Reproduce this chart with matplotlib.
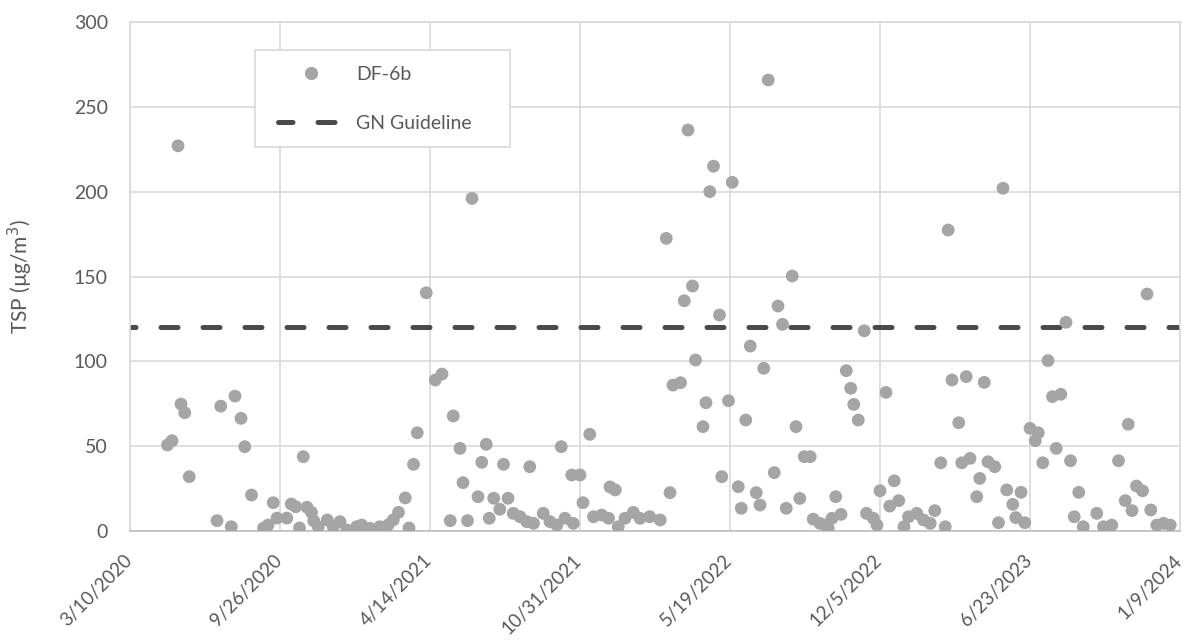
import matplotlib
matplotlib.use("Agg")
import matplotlib.pyplot as plt
from matplotlib.lines import Line2D
from matplotlib.patches import Rectangle
import matplotlib.transforms as mtransforms
import pandas as pd

# sampling days counted from the first axis date (3/10/2020)
start_date = "2020-03-10"
sample_day = [
    50, 56, 64, 68, 73, 79, 116, 121, 135, 140, 148, 153, 162, 178, 184, 191,
    196, 209, 215, 221, 226, 231, 236, 242, 245, 251, 263, 271, 280, 289, 302,
    309, 320, 333, 344, 351, 358, 367, 372, 378, 383, 395, 407, 416, 427, 431,
    440, 444, 450, 456, 464, 469, 475, 479, 485, 493, 498, 504, 511, 520, 529,
    533, 538, 551, 560, 569, 575, 580, 589, 591, 600, 604, 613, 618, 629, 638,
    640, 647, 651, 660, 671, 680, 693, 707, 715, 720, 724, 734, 739, 744, 750,
    754, 764, 768, 773, 778, 786, 789, 798, 803, 811, 815, 821, 827, 835, 840,
    845, 851, 859, 864, 870, 875, 883, 888, 893, 899, 907, 911, 920, 927, 931,
    936, 941, 948, 955, 961, 965, 971, 979, 982, 991, 996, 1000, 1008, 1013,
    1019, 1025, 1032, 1038, 1049, 1058, 1067, 1073, 1081, 1087, 1091, 1096,
    1105, 1109, 1115, 1120, 1129, 1133, 1139, 1144, 1153, 1158, 1164, 1169,
    1177, 1181, 1188, 1193, 1200, 1207, 1211, 1217, 1224, 1230, 1235, 1241,
    1248, 1254, 1259, 1265, 1271, 1289, 1298, 1309, 1318, 1327, 1331, 1336,
    1342, 1350, 1356, 1361, 1369, 1378, 1387,
]
tsp_df6b = [
    50.7, 53.2, 227, 74.8, 69.7, 32, 6.1, 73.6, 2.5, 79.5, 66.4, 49.7, 21.2,
    1.7, 3.5, 16.7, 7.6, 7.6, 15.9, 14.3, 1.8, 43.8, 14, 11, 6, 2.5, 6.5, 2.5,
    5.5, 0.6, 2.5, 3.5, 1.6, 2.5, 3.5, 6.5, 11, 19.5, 1.8, 39.3, 57.9, 140.4,
    89, 92.5, 6.1, 67.8, 48.7, 28.5, 6.1, 196, 20.2, 40.5, 51.1, 7.5, 19.3,
    12.8, 39.3, 19.3, 10.4, 8.4, 5.5, 37.9, 4.5, 10.4, 5.5, 3.5, 49.7, 7.5,
    33, 4.5, 33, 16.7, 57, 8.4, 9.4, 7.5, 26, 24.2, 2.5, 7.5, 11, 7.5, 8.4,
    6.5, 172.5, 22.6, 86, 87.4, 135.7, 236.3, 144.4, 100.8, 61.5, 75.6, 200,
    215, 127.3, 32, 76.8, 205.5, 26.1, 13.4, 65.4, 109, 22.6, 15.3, 95.9,
    265.8, 34.4, 132.6, 121.8, 13.4, 150.3, 61.5, 19.2, 43.8, 43.8, 7, 4.5,
    3.5, 1.6, 7.5, 20.2, 9.8, 94.5, 84.1, 74.6, 65.4, 118, 10.4, 7.5, 3.5,
    23.7, 81.7, 14.7, 29.6, 17.9, 2.5, 8.4, 10.4, 6.5, 4.5, 12, 40.2, 2.5,
    177.4, 89, 63.8, 40.2, 91, 42.8, 20.2, 31, 87.6, 40.8, 37.9, 4.9, 202,
    24.2, 15.7, 7.9, 22.8, 4.9, 60.5, 53.2, 57.9, 40.2, 100.4, 79.2, 48.7,
    80.6, 123, 41.4, 8.4, 22.8, 2.5, 10.4, 2.5, 3.5, 41.4, 17.9, 62.9, 12,
    26.5, 23.7, 139.7, 12.4, 3.5, 4.5, 3.5,
]
guideline_value = 120
y_ticks = [0, 50, 100, 150, 200, 250, 300]
x_tick_step_days = 200
x_tick_count = 8

text_color = "#595959"
grid_color = "#d9d9d9"
point_color = "#a5a5a5"
line_color = "#4a4a4a"
dash_style = (2.3, (3.4, 5.0))

plt.rcParams["font.family"] = ["Lato", "DejaVu Sans"]

W, H = 1187, 642
start = pd.Timestamp(start_date)
dates = start + pd.to_timedelta(sample_day, unit="D")
tick_dates = pd.date_range(start, periods=x_tick_count, freq=f"{x_tick_step_days}D")

fig = plt.figure(figsize=(W / 100, H / 100), dpi=100)
ax = fig.add_axes([130 / W, 1 - 531 / H, 1050 / W, 509 / H])

ax.scatter(dates, tsp_df6b, s=85, color=point_color, edgecolors="none", zorder=3)
ax.axhline(guideline_value, color=line_color, linewidth=3.6,
           linestyle=dash_style, dash_capstyle="round", zorder=2)

ax.set_xlim(tick_dates[0], tick_dates[-1])
ax.set_ylim(0, 300)
ax.set_yticks(y_ticks)
ax.set_xticks(tick_dates)
ax.set_xticklabels([f"{d.month}/{d.day}/{d.year}" for d in tick_dates])

ax.grid(True, color=grid_color, linewidth=1.2, zorder=0)
for side in ["top", "right", "left"]:
    ax.spines[side].set_color(grid_color)
    ax.spines[side].set_linewidth(1.2)
ax.spines["bottom"].set_color("#bfbfbf")
ax.spines["bottom"].set_linewidth(1.2)

ax.tick_params(axis="y", length=0, pad=16, labelsize=14, labelcolor=text_color)
ax.tick_params(axis="x", length=0, pad=15, labelsize=13.5, labelcolor=text_color)
shift = mtransforms.ScaledTranslation(-5 / 72, 0, fig.dpi_scale_trans)
for lbl in ax.get_xticklabels():
    lbl.set_rotation(45)
    lbl.set_ha("right")
    lbl.set_va("top")
    lbl.set_rotation_mode("anchor")
    lbl.set_transform(lbl.get_transform() + shift)

ax.set_ylabel("TSP (µg/m$^3$)", fontsize=15, color=text_color)
ax.yaxis.set_label_coords(35 / W, 1 - 277 / H, transform=fig.transFigure)

# legend box as in the source chart, handles placed inside it
fig.patches.append(Rectangle((255 / W, 1 - 147 / H), 255 / W, 97 / H,
                             transform=fig.transFigure, facecolor="white",
                             edgecolor=grid_color, linewidth=1.2, zorder=4))
handles = [
    Line2D([], [], marker="o", linestyle="none", markersize=9.5,
           markerfacecolor=point_color, markeredgecolor="none", label="DF-6b"),
    Line2D([], [], color=line_color, linewidth=3.6, linestyle=(0.5, (3.4, 5.0)),
           dash_capstyle="round", label="GN Guideline"),
]
leg = fig.legend(handles=handles, loc="upper left", bbox_to_anchor=(278 / W, 1 - 66 / H),
                 frameon=False, fontsize=14, labelcolor=text_color, handlelength=3.4,
                 handletextpad=0.6, borderpad=0, labelspacing=1.66, borderaxespad=0)
leg.set_zorder(5)

fig.savefig("out.png", dpi=100, facecolor="white")
